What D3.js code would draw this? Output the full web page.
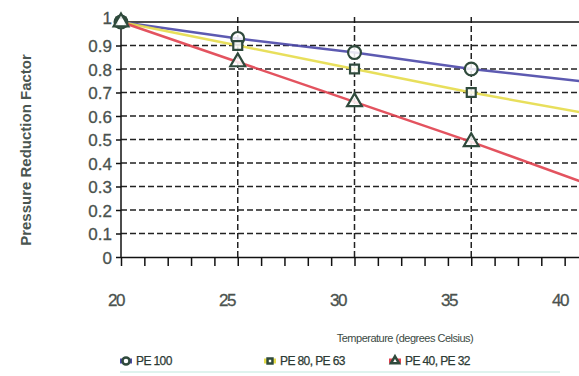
<!DOCTYPE html>
<html>
<head>
<meta charset="utf-8">
<script src="https://cdn.jsdelivr.net/npm/d3@7"></script>
<style>
	body { margin: 0; background: #fff; }
	svg { display: block; font-family: "Liberation Sans", Arial, sans-serif; }
</style>
</head>
<body>
<div id="chart"></div>
<script>
const temps = [20, 25, 30, 35, 40];
const pe100 = [1.0, 0.93, 0.87, 0.80, 0.745];
const pe80 = [1.0, 0.90, 0.80, 0.70, 0.61];
const pe40 = [1.0, 0.83, 0.66, 0.49, 0.31];
const yTicks = [0, 0.1, 0.2, 0.3, 0.4, 0.5, 0.6, 0.7, 0.8, 0.9, 1];
const xLabels = [20, 25, 30, 35, 40];
const seriesNames = ["PE 100", "PE 80, PE 63", "PE 40, PE 32"];

const WIDTH = 579, HEIGHT = 376;
const markerColor = "#2f4a3c";
const textColor = "#4a524e";

const series = [
	{ name: seriesNames[0], values: pe100, color: "#4b48a8", shape: d3.symbolCircle, size: 130 },
	{ name: seriesNames[1], values: pe80, color: "#e6dc4a", shape: d3.symbolSquare, size: 80 },
	{ name: seriesNames[2], values: pe40, color: "#e0404e", shape: d3.symbolTriangle, size: 95 },
];

const svg = d3.select("#chart").append("svg")
	.attr("width", WIDTH)
	.attr("height", HEIGHT);

const x = d3.scaleLinear().domain([20, 40]).range([121, 588]);
const y = d3.scaleLinear().domain([0, 1]).range([257, 22]);
// tick labels in the source sit slightly off the tick positions
const xLab = d3.scaleLinear().domain([20, 40]).range([116, 560]);

// horizontal dashed grid
svg.append("g")
	.selectAll("line")
	.data(yTicks.filter((d) => d > 0 && d < 1))
	.join("line")
	.attr("x1", x(20))
	.attr("x2", WIDTH)
	.attr("y1", (d) => y(d))
	.attr("y2", (d) => y(d))
	.attr("stroke", "#222")
	.attr("stroke-width", 1.5)
	.attr("stroke-dasharray", "6,3");

// vertical dashed grid
svg.append("g")
	.selectAll("line")
	.data([25, 30, 35])
	.join("line")
	.attr("x1", (d) => x(d))
	.attr("x2", (d) => x(d))
	.attr("y1", y(1) - 5)
	.attr("y2", y(0))
	.attr("stroke", "#222")
	.attr("stroke-width", 1.5)
	.attr("stroke-dasharray", "6,3");

// top border
svg.append("line")
	.attr("x1", x(20)).attr("x2", WIDTH)
	.attr("y1", y(1)).attr("y2", y(1))
	.attr("stroke", "#111").attr("stroke-width", 1.5);

// y axis
const yAxis = svg.append("g")
	.attr("transform", `translate(${x(20)},0)`)
	.call(d3.axisLeft(y).tickValues(yTicks).tickSize(5).tickSizeOuter(0)
		.tickFormat((d) => d === 0 ? "0" : d === 1 ? "1" : d3.format(".1f")(d)));
yAxis.select(".domain").attr("stroke", "#111").attr("stroke-width", 1.5)
	.attr("d", `M0,${y(1) - 5}V${y(0)}`);
yAxis.selectAll(".tick line").attr("stroke", "#111").attr("stroke-width", 1.5);
yAxis.selectAll(".tick text")
	.attr("x", -9)
	.attr("dy", "0.36em")
	.attr("font-size", 17)
	.attr("fill", textColor)
	.attr("stroke", textColor)
	.attr("stroke-width", 0.3)
	.attr("font-family", "Liberation Sans, Arial, sans-serif");
yAxis.selectAll(".tick").filter((d) => d === 1).select("text").attr("dy", "0.1em");

// x axis with one tick per degree
const xAxis = svg.append("g")
	.attr("transform", `translate(0,${y(0)})`)
	.call(d3.axisBottom(x).tickValues(d3.range(20, 41, 1)).tickSize(9).tickSizeOuter(0).tickFormat(""));
xAxis.select(".domain").attr("stroke", "#111").attr("stroke-width", 1.5);
xAxis.selectAll(".tick line").attr("stroke", "#111").attr("stroke-width", 1.5);

// x tick labels
svg.append("g")
	.attr("transform", "translate(0,306)")
	.selectAll("text")
	.data(xLabels)
	.join("text")
	.attr("x", (d) => xLab(d))
	.attr("text-anchor", "middle")
	.attr("font-size", 17)
	.attr("letter-spacing", "-1.5px")
	.attr("fill", textColor)
	.attr("stroke", textColor)
	.attr("stroke-width", 0.3)
	.text((d) => d);

// lines
const line = d3.line()
	.x((d, i) => x(temps[i]))
	.y((d) => y(d));

svg.append("g")
	.selectAll("path")
	.data(series)
	.join("path")
	.attr("d", (s) => line(s.values))
	.attr("fill", "none")
	.attr("stroke", (s) => s.color)
	.attr("stroke-width", 2.5)
	.attr("opacity", 0.9);

// markers
series.forEach((s) => {
	svg.append("g")
		.selectAll("path")
		.data(s.values.slice(0, 4))
		.join("path")
		.attr("transform", (d, i) => `translate(${x(temps[i])},${y(d)})`)
		.attr("d", d3.symbol().type(s.shape).size(s.size))
		.attr("fill", "#fff")
		.attr("fill-opacity", 0.85)
		.attr("stroke", markerColor)
		.attr("stroke-width", 2.2);
});

// axis titles
svg.append("text")
	.attr("transform", "translate(31,150) rotate(-90)")
	.attr("text-anchor", "middle")
	.attr("font-size", 15)
	.attr("font-weight", "bold")
	.attr("fill", "#4a5550")
	.text("Pressure Reduction Factor");

svg.append("text")
	.attr("x", 405)
	.attr("y", 342)
	.attr("text-anchor", "middle")
	.attr("font-size", 11)
	.attr("letter-spacing", "-0.5px")
	.attr("fill", "#3c4a44")
	.text("Temperature (degrees Celsius)");

// legend
const legendX = [126, 270, 395];
const legend = svg.append("g")
	.selectAll("g")
	.data(series)
	.join("g")
	.attr("transform", (d, i) => `translate(${legendX[i]},361)`);
legend.append("line")
	.attr("x1", -6).attr("x2", 6)
	.attr("y1", 0).attr("y2", 0)
	.attr("stroke", (s) => s.color)
	.attr("stroke-width", 5);
legend.append("path")
	.attr("d", (s) => d3.symbol().type(s.shape).size(s.size * 0.3)())
	.attr("fill", "#fff")
	.attr("stroke", markerColor)
	.attr("stroke-width", 2.5);
legend.append("text")
	.attr("x", 10)
	.attr("dy", "0.35em")
	.attr("font-size", 12)
	.attr("letter-spacing", "-0.6px")
	.attr("fill", "#2c3a34")
	.attr("stroke", "#2c3a34")
	.attr("stroke-width", 0.25)
	.text((s) => s.name);

svg.append("line")
	.attr("x1", 120).attr("x2", 560)
	.attr("y1", 372).attr("y2", 372)
	.attr("stroke", "#dff3ee")
	.attr("stroke-width", 2);
</script>
</body>
</html>
